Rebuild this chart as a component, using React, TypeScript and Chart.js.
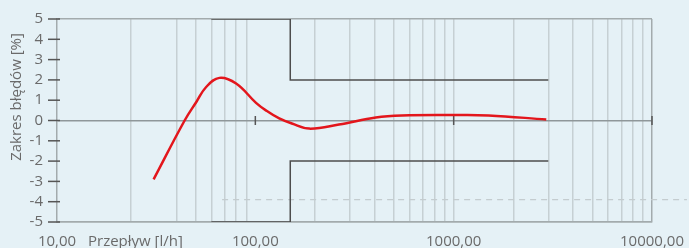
import React, { useEffect, useRef } from "react";
import { Chart, registerables } from "chart.js";

Chart.register(...registerables);

// Red measurement curve
const flowValues = [30.7, 44, 50.4, 56.5, 65.9, 80, 100.8, 113, 132, 153, 187, 264, 405, 548, 1023, 1500, 2930];
const errorValues = [-2.9, 0, 0.91, 1.65, 2.1, 1.82, 0.87, 0.5, 0.1, -0.15, -0.4, -0.2, 0.15, 0.25, 0.27, 0.25, 0.05];

// Tolerance limits
const limitFlow = [60, 150, 150, 3000];
const upperLimit = [5, 5, 2, 2];
const lowerLimit = [-5, -5, -2, -2];

// Dashed reference line
const refFlow = [68, 15000];
const refError = [-3.9, -3.9];

// Axes
const xLabelValues = [10, 100, 1000, 10000];
const xLabelTexts = ["10,00", "100,00", "1000,00", "10000,00"];
const xGridValues = [23.5, 40, 50, 60, 70, 80, 90, 200, 300, 400, 500, 600, 700, 800, 900, 1000, 2000, 3000, 4000, 5000, 6000, 7000, 8000, 9000, 10000];
const zeroTickValues = [100, 1000, 10000];
const yTickValues = [-5, -4, -3, -2, -1, 0, 1, 2, 3, 4, 5];

const xTitle = "Przepływ [l/h]";
const yTitle = "Zakres błędów [%]";

const FONT = "'Open Sans', 'Noto Sans', sans-serif";
const TEXT = "#6a6a6a";

const pts = (xs: number[], ys: number[]) => xs.map((x, i) => ({ x, y: ys[i] }));

const zeroPad = (scale: any) => {
  scale.paddingLeft = 0;
  scale.paddingRight = 0;
  scale.paddingTop = 0;
  scale.paddingBottom = 0;
};

export default function App() {
  const ref = useRef<HTMLCanvasElement | null>(null);

  useEffect(() => {
    if (!ref.current) return;
    const overlay = {
      id: "overlay",
      beforeDatasetsDraw(chart: any) {
        const c = chart.ctx;
        const xs = chart.scales.x;
        const ys = chart.scales.y;
        const y0 = ys.getPixelForValue(0);
        c.save();
        c.strokeStyle = "#555";
        c.lineWidth = 1.5;
        zeroTickValues.forEach((v) => {
          const px = xs.getPixelForValue(v);
          c.beginPath();
          c.moveTo(px, y0 - 4.5);
          c.lineTo(px, y0 + 4.5);
          c.stroke();
        });
        const left = chart.chartArea.left;
        yTickValues.forEach((v) => {
          const py = ys.getPixelForValue(v);
          c.beginPath();
          c.moveTo(left - 9, py);
          c.lineTo(left + 3, py);
          c.stroke();
        });
        c.restore();
      },
      afterDraw(chart: any) {
        const c = chart.ctx;
        const a = chart.chartArea;
        c.save();
        c.fillStyle = TEXT;
        c.font = `15px ${FONT}`;
        c.textBaseline = "middle";
        c.textAlign = "left";
        c.fillText(xTitle, a.left + 31, a.bottom + 20);
        c.translate(a.left - 40, a.top + 78);
        c.rotate(-Math.PI / 2);
        c.textAlign = "center";
        c.fillText(yTitle, 0, 0);
        c.restore();
      },
    };

    const chart = new Chart(ref.current, {
      type: "line",
      data: {
        datasets: [
          {
            data: pts(flowValues, errorValues),
            borderColor: "#e3161c",
            borderWidth: 2.5,
            pointRadius: 0,
            tension: 0.4,
            fill: false,
          },
          {
            data: pts(limitFlow, upperLimit),
            borderColor: "#4d4d4d",
            borderWidth: 1.5,
            pointRadius: 0,
            tension: 0,
            fill: false,
          },
          {
            data: pts(limitFlow, lowerLimit),
            borderColor: "#4d4d4d",
            borderWidth: 1.5,
            pointRadius: 0,
            tension: 0,
            fill: false,
          },
          {
            data: pts(refFlow, refError),
            borderColor: "#c4cccf",
            borderWidth: 1.2,
            borderDash: [6, 5],
            pointRadius: 0,
            tension: 0,
            fill: false,
            clip: false,
          },
        ] as any,
      },
      options: {
        animation: false,
        responsive: false,
        maintainAspectRatio: false,
        layout: { padding: { top: 19, right: 37, left: 0, bottom: 0 } },
        plugins: { legend: { display: false }, tooltip: { enabled: false } },
        scales: {
          x: {
            type: "logarithmic",
            min: 10,
            max: 10000,
            afterBuildTicks: (scale: any) => {
              const all = Array.from(new Set([...xLabelValues, ...xGridValues])).sort((p, q) => p - q);
              scale.ticks = all.map((v) => ({ value: v }));
            },
            afterFit: (scale: any) => {
              scale.height = 26;
              zeroPad(scale);
            },
            ticks: {
              autoSkip: false,
              maxRotation: 0,
              minRotation: 0,
              padding: 11,
              color: TEXT,
              font: { family: FONT, size: 15 },
              callback: (v: any) => {
                const i = xLabelValues.indexOf(Number(v));
                return i >= 0 ? xLabelTexts[i] : "";
              },
            },
            grid: {
              drawTicks: false,
              lineWidth: 1.5,
              color: (ctx: any) => {
                const v = ctx.tick ? ctx.tick.value : 0;
                if (v === 10 || v === 100) return "rgba(0,0,0,0)";
                if (v === 10000) return "#a3abad";
                return "#c6d0d3";
              },
            },
            border: { color: "#a3abad", width: 1.5 },
          },
          y: {
            min: -5,
            max: 5,
            afterBuildTicks: (scale: any) => {
              scale.ticks = yTickValues.map((v) => ({ value: v }));
            },
            afterFit: (scale: any) => {
              scale.width = 57;
              zeroPad(scale);
            },
            ticks: {
              autoSkip: false,
              padding: 14,
              color: TEXT,
              font: { family: FONT, size: 15 },
              callback: (v: any) => String(v),
            },
            grid: {
              drawTicks: false,
              lineWidth: 1.5,
              color: (ctx: any) => {
                const v = ctx.tick ? ctx.tick.value : 1;
                if (v === 0) return "#8f979a";
                if (v === 5 || v === -5) return "#a3abad";
                return "rgba(0,0,0,0)";
              },
            },
            border: { color: "#a3abad", width: 1.5 },
          },
        },
      } as any,
      plugins: [overlay],
    });
    return () => chart.destroy();
  }, []);

  return (
    <div
      style={{
        position: "fixed",
        left: 0,
        top: 0,
        width: 689,
        height: 248,
        background: "#e5f1f6",
      }}
    >
      <canvas ref={ref} width={689} height={248} style={{ display: "block" }} />
    </div>
  );
}
